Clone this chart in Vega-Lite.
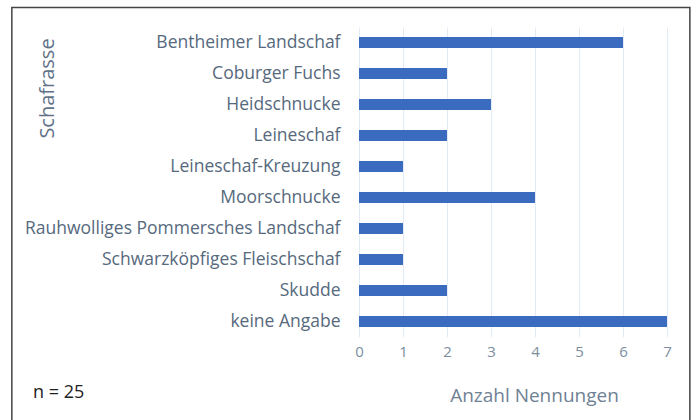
{
  "$schema": "https://vega.github.io/schema/vega-lite/v6.json",
  "width": 308,
  "height": 310,
  "padding": {"left": 11, "top": 6, "right": 0, "bottom": 0},
  "background": "white",
  "config": {"view": {"stroke": null}, "font": "Open Sans"},
  "datasets": {
    "breeds": [
      {"rasse": "Bentheimer Landschaf", "anzahl": 6},
      {"rasse": "Coburger Fuchs", "anzahl": 2},
      {"rasse": "Heidschnucke", "anzahl": 3},
      {"rasse": "Leineschaf", "anzahl": 2},
      {"rasse": "Leineschaf-Kreuzung", "anzahl": 1},
      {"rasse": "Moorschnucke", "anzahl": 4},
      {"rasse": "Rauhwolliges Pommersches Landschaf", "anzahl": 1},
      {"rasse": "Schwarzköpfiges Fleischschaf", "anzahl": 1},
      {"rasse": "Skudde", "anzahl": 2},
      {"rasse": "keine Angabe", "anzahl": 7}
    ],
    "frame": [{"x1": -7.89, "x2": 7.52, "y1": -0.29, "y2": 1.063}],
    "note": [{"label": "n = 25", "x": -7.41, "y": -0.182}]
  },
  "layer": [
    {
      "data": {"name": "breeds"},
      "mark": {"type": "bar", "color": "#3a6bbf"},
      "encoding": {
        "y": {
          "field": "rasse", "type": "nominal",
          "sort": ["Bentheimer Landschaf", "Coburger Fuchs", "Heidschnucke", "Leineschaf", "Leineschaf-Kreuzung", "Moorschnucke", "Rauhwolliges Pommersches Landschaf", "Schwarzköpfiges Fleischschaf", "Skudde", "keine Angabe"],
          "scale": {"paddingInner": 0.64, "paddingOuter": 0.32},
          "axis": {
            "domain": false, "ticks": false, "labelFontSize": 17.5, "labelColor": "#56697d", "labelPadding": 19, "labelLimit": 500,
            "title": "Schafrasse", "titleFontSize": 20, "titleFontWeight": "normal", "titleColor": "#5f7287",
            "titleX": -312, "titleY": 61, "titleAngle": -90, "titleAlign": "center", "titleBaseline": "middle"
          }
        },
        "x": {
          "field": "anzahl", "type": "quantitative",
          "scale": {"domain": [0, 7], "nice": false, "zero": true},
          "axis": {
            "values": [0, 1, 2, 3, 4, 5, 6, 7], "domain": false, "ticks": false, "grid": true, "gridColor": "#e2eaf3",
            "labelFontSize": 15, "labelColor": "#7d8ea0", "labelPadding": 7, "labelFlush": false,
            "title": "Anzahl Nennungen", "titleFontSize": 19, "titleFontWeight": "normal", "titleColor": "#6f8195",
            "titleX": 175, "titleY": 58, "titleBaseline": "middle", "titleAlign": "center"
          }
        }
      }
    },
    {
      "data": {"name": "frame"},
      "mark": {"type": "rect", "filled": false, "stroke": "#444444", "strokeWidth": 1.5},
      "encoding": {
        "x": {"field": "x1", "type": "quantitative", "scale": {"domain": [0, 7], "nice": false, "zero": true}},
        "x2": {"field": "x2"},
        "y": {"field": "y1", "type": "quantitative", "scale": {"domain": [0, 1], "nice": false, "zero": false}, "axis": null},
        "y2": {"field": "y2"}
      }
    },
    {
      "data": {"name": "note"},
      "mark": {"type": "text", "align": "left", "baseline": "middle", "fontSize": 18, "color": "#222222"},
      "encoding": {
        "x": {"field": "x", "type": "quantitative", "scale": {"domain": [0, 7], "nice": false, "zero": true}},
        "y": {"field": "y", "type": "quantitative", "scale": {"domain": [0, 1], "nice": false, "zero": false}, "axis": null},
        "text": {"field": "label"}
      }
    }
  ],
  "resolve": {"scale": {"y": "independent"}, "axis": {"y": "independent"}}
}
